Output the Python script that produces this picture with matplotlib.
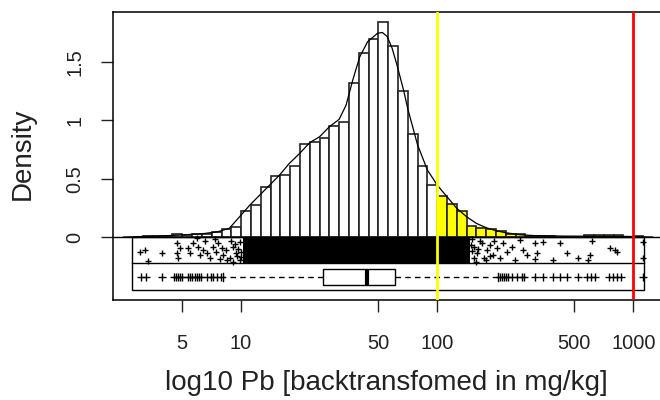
import numpy as np
import matplotlib.pyplot as plt
from matplotlib.patches import Rectangle

plt.rcParams['font.family'] = ['Liberation Sans', 'DejaVu Sans']

# histogram of log10(Pb): bins of 0.05 starting at 0.50, density values
bin_start = 0.50
bin_width = 0.05
hist_dens = [0.012, 0.012, 0.012, 0.03, 0.02, 0.026, 0.03, 0.045, 0.065, 0.09,
             0.22, 0.274, 0.43, 0.525, 0.53, 0.61, 0.80, 0.815, 0.853, 0.955,
             0.99, 1.32, 1.575, 1.70, 1.845, 1.635, 1.255, 0.88, 0.61, 0.443,
             0.35, 0.283, 0.226, 0.094, 0.08, 0.066, 0.051, 0.026, 0.026, 0.012,
             0.012, 0.012, 0.0, 0.0, 0.0, 0.02, 0.02, 0.02, 0.02, 0.0,
             0.01]

# kernel density curve (log10 value, density)
kde_x = [0.40, 0.50, 0.60, 0.70, 0.80, 0.88, 0.94, 0.99, 1.045, 1.095, 1.145, 1.195,
         1.245, 1.30, 1.35, 1.40, 1.45, 1.50, 1.535, 1.57, 1.605, 1.645, 1.695, 1.72,
         1.745, 1.77, 1.795, 1.83, 1.85, 1.90, 1.95, 2.00, 2.05, 2.10, 2.15, 2.20,
         2.25, 2.30, 2.35, 2.42, 2.50, 2.65, 2.80, 2.95, 3.10]
kde_y = [0.0, 0.005, 0.01, 0.018, 0.028, 0.045, 0.075, 0.17, 0.275, 0.36, 0.445, 0.53,
         0.63, 0.72, 0.81, 0.86, 0.946, 1.01, 1.13, 1.35, 1.546, 1.675, 1.747, 1.755,
         1.72, 1.62, 1.475, 1.25, 1.10, 0.79, 0.575, 0.446, 0.346, 0.246, 0.174, 0.117,
         0.08, 0.054, 0.037, 0.02, 0.012, 0.008, 0.007, 0.006, 0.0]

# thresholds (mg/kg)
limit_warn = 100
limit_max = 1000

# boxplot statistics (log10)
box_q1, box_med, box_q3 = 1.418, 1.641, 1.785
whisk_lo, whisk_hi = 0.908, 2.31
outliers = [0.487, 0.517, 0.597, 0.657, 0.667, 0.677, 0.687, 0.697, 0.727, 0.737,
            0.747, 0.767, 0.777, 0.787, 0.797, 0.827, 0.847, 0.857, 0.877, 0.895,
            2.32, 2.33, 2.34, 2.35, 2.36, 2.38, 2.405, 2.43, 2.445, 2.50,
            2.54, 2.59, 2.625, 2.66, 2.72, 2.765, 2.785, 2.805, 2.875, 2.895,
            2.915, 2.935, 3.049]

# stripchart: dense core range + scattered tail points (log10 value, jitter)
core_lo, core_hi = 1.01, 2.165
strip_x = [0.485, 0.51, 0.525, 0.597, 0.672, 0.672, 0.680, 0.689, 0.731, 0.740,
           0.756, 0.773, 0.781, 0.790, 0.807, 0.824, 0.841, 0.857, 0.874, 0.883,
           0.900, 0.908, 0.925, 0.942, 0.958, 0.975, 0.992, 0.815, 0.866, 0.95,
           0.97, 0.985, 1.0, 0.93, 0.89, 0.96, 0.995, 1.0, 0.98,
           2.186, 2.203, 2.220, 2.237, 2.254, 2.271, 2.287, 2.304, 2.321, 2.338,
           2.356, 2.381, 2.398, 2.423, 2.440, 2.457, 2.500, 2.508, 2.500, 2.542,
           2.592, 2.626, 2.660, 2.720, 2.770, 2.779, 2.789, 2.880, 2.905, 2.917,
           3.049, 3.049, 2.175, 2.19, 2.21, 2.23, 2.25, 2.27, 2.29, 2.18, 2.17, 2.2]
strip_y = [-0.126, -0.111, -0.206, -0.140, -0.054, -0.140, -0.183, -0.097, -0.097, -0.140,
           -0.054, -0.011, -0.083, -0.154, -0.111, -0.140, -0.183, -0.083, -0.126, -0.054,
           -0.097, -0.154, -0.111, -0.183, -0.083, -0.140, -0.197, -0.034, -0.017, -0.03,
           -0.06, -0.10, -0.17, -0.20, -0.19, -0.21, -0.04, -0.13, -0.16,
           -0.083, -0.140, -0.034, -0.183, -0.111, -0.069, -0.154, -0.097, -0.183, -0.054,
           -0.126, -0.083, -0.197, -0.026, -0.111, -0.154, -0.054, -0.140, -0.191, -0.040,
           -0.197, -0.054, -0.140, -0.183, -0.197, -0.154, -0.034, -0.097, -0.111, -0.126,
           -0.040, -0.183, -0.02, -0.18, -0.10, -0.05, -0.20, -0.16, -0.03, -0.12, -0.07, -0.21]

tick_vals = [5, 10, 50, 100, 500, 1000]
ytick_vals = [0, 0.5, 1, 1.5]
ytick_labels = ['0', '0.5', '1', '1.5']

fig = plt.figure(figsize=(6.6, 4), dpi=100)
ax = fig.add_axes([0.1708, 0.25, 0.8398, 0.719])

# histogram bars
lefts = bin_start + bin_width * np.arange(len(hist_dens))
cols = ['#ffff00' if l >= np.log10(limit_warn) - 1e-9 else 'white' for l in lefts]
ax.bar(lefts, hist_dens, width=bin_width, align='edge', color=cols,
       edgecolor='#222222', linewidth=1.2, zorder=2)
ax.plot(kde_x, kde_y, color='black', lw=0.9, zorder=3)
ax.axhline(0, color='black', lw=1.0, zorder=3)

# strip / box panel below zero
strip_top, strip_mid, strip_bot = 0.0, -0.2256, -0.4545
ax.add_patch(Rectangle((0.444, strip_bot), 3.055 - 0.444, strip_top - strip_bot,
                       fill=False, edgecolor='black', lw=1.0, zorder=3))
ax.plot([0.444, 3.055], [strip_mid, strip_mid], color='black', lw=1.0, zorder=3)
ax.fill_between([core_lo, core_hi], strip_mid, strip_top, color='black', lw=0, zorder=4)
ax.plot(strip_x, strip_y, '+', color='black', ms=5, mew=1.0, zorder=4)

stats = [dict(med=box_med, q1=box_q1, q3=box_q3, whislo=whisk_lo, whishi=whisk_hi,
              fliers=outliers)]
ax.bxp(stats, positions=[-0.343], widths=0.132, orientation='horizontal',
       manage_ticks=False, patch_artist=True,
       boxprops=dict(facecolor='white', edgecolor='black', lw=1.0),
       medianprops=dict(color='black', lw=3),
       whiskerprops=dict(color='black', lw=1.0, linestyle=(0, (4, 3))),
       capprops=dict(color='black', lw=1.0), capwidths=0.066,
       flierprops=dict(marker='+', markeredgecolor='black', markersize=6, mew=1.0))

ax.axvline(np.log10(limit_warn), color='#ffff00', lw=2, zorder=5)
ax.axvline(np.log10(limit_max), color='#ff0000', lw=2, zorder=5)

ax.set_xlim(0.3452, 3.172)
ax.set_ylim(-0.540, 1.927)
ax.set_xticks(np.log10(tick_vals))
ax.set_xticklabels([str(v) for v in tick_vals])
ax.set_yticks(ytick_vals)
ax.set_yticklabels(ytick_labels, rotation=90, va='center')
ax.tick_params(axis='both', length=8.5, width=1.0, labelsize=14.4, colors='#222222')
ax.tick_params(axis='x', pad=16)
ax.tick_params(axis='y', pad=12)
for s in ax.spines.values():
    s.set_linewidth(1.1)
ax.spines['right'].set_visible(False)

ax.set_xlabel('log10 Pb [backtransfomed in mg/kg]', fontsize=20, color='#222222')
ax.set_ylabel('Density', fontsize=20, color='#222222')
ax.xaxis.set_label_coords(0.494, -0.288)
ax.xaxis.label.set_va('center')
ax.yaxis.set_label_coords(-0.162, 0.5075)
ax.yaxis.label.set_va('center')

fig.savefig('out.png', dpi=100)
